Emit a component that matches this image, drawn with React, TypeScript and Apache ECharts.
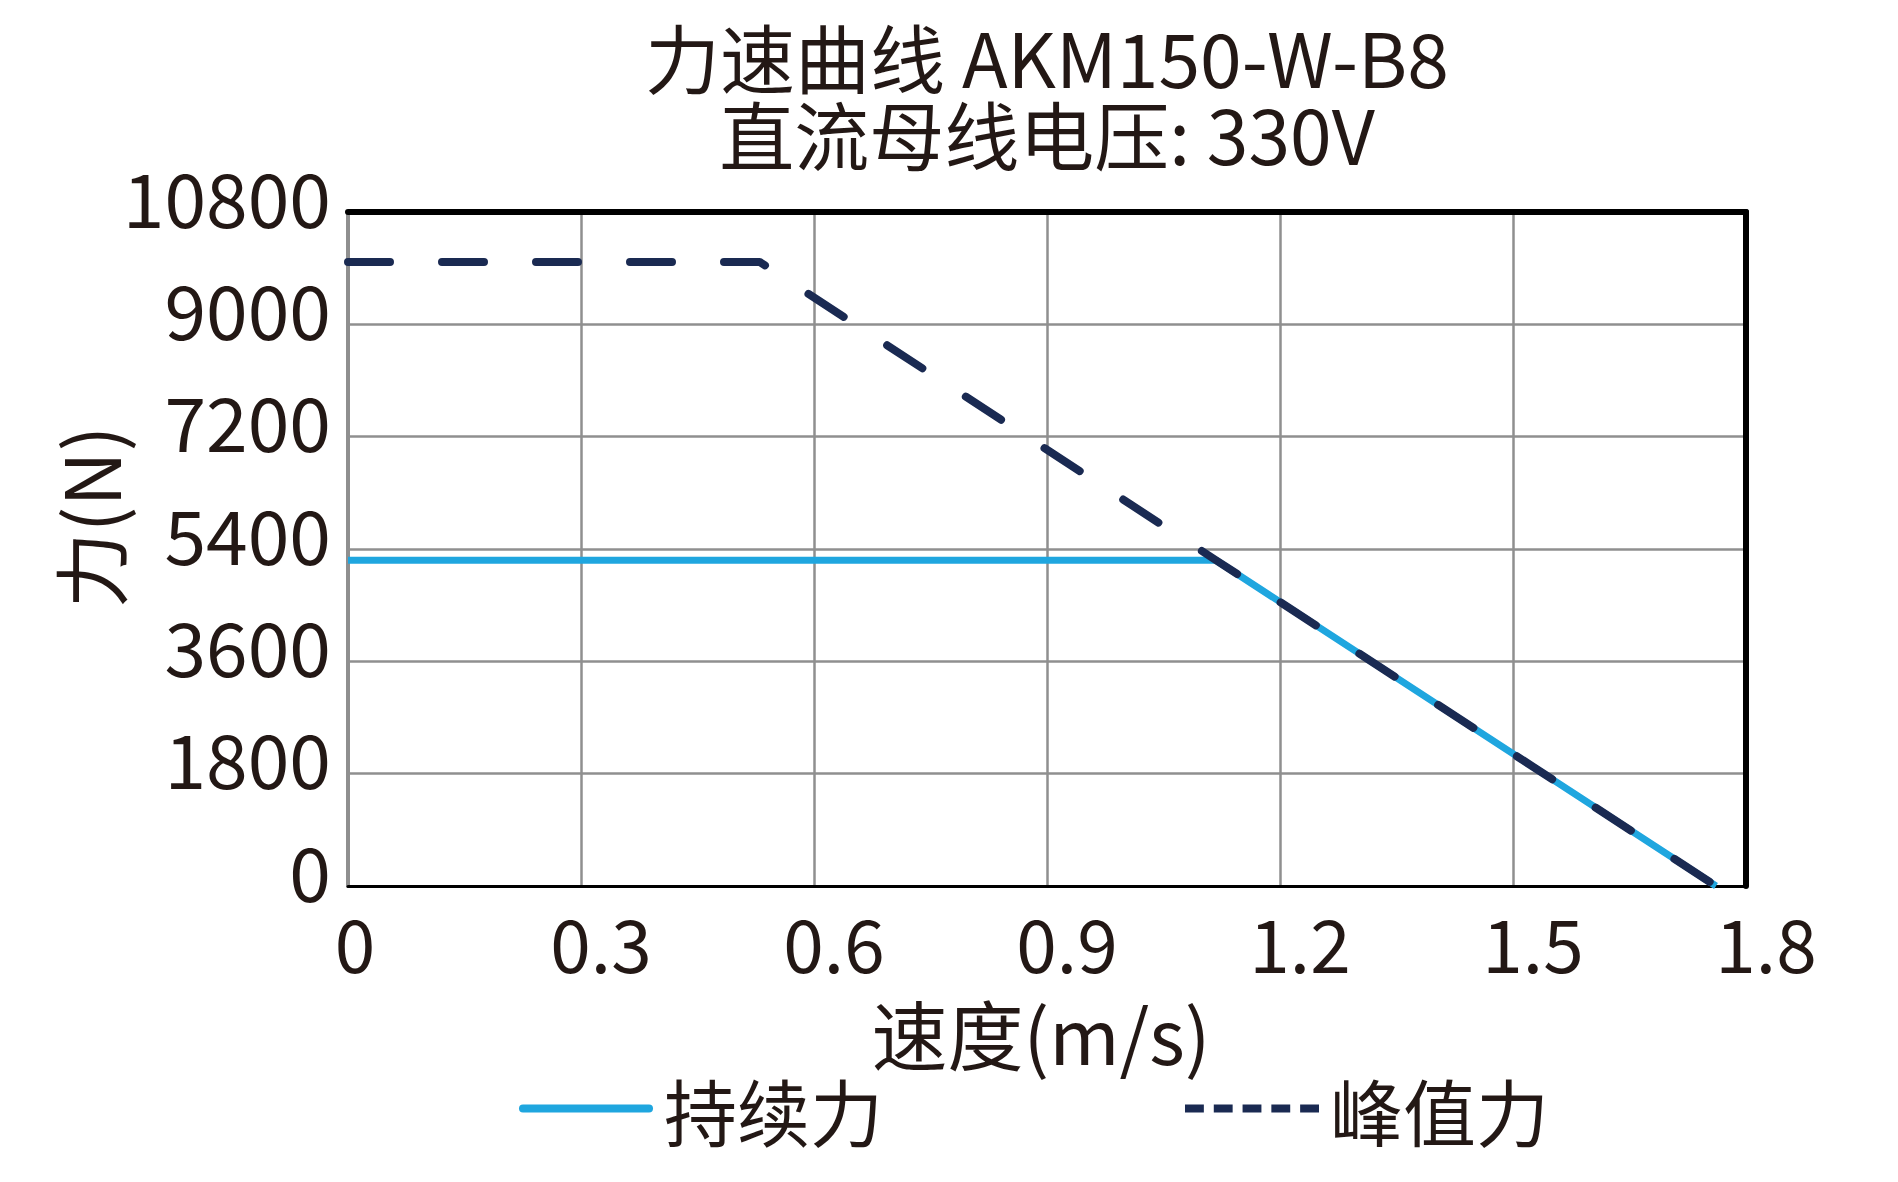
import React, { useEffect, useRef } from "react";
import * as echarts from "echarts";

const titleLines = ["力速曲线 AKM150-W-B8", "直流母线电压: 330V"];
const xName = "速度(m/s)";
const yName = "力(N)";
const seriesNames = ["持续力", "峰值力"];

// continuous force curve (speed m/s, force N)
const contSpeed = [0, 1.1176, 1.7614];
const contForce = [5220, 5220, 0];
// peak force curve
const peakSpeed = [0, 0.53, 1.1176, 1.7614];
const peakForce = [10000, 10000, 5220, 0];

const xMin = 0, xMax = 1.8, xStep = 0.3;
const yMin = 0, yMax = 10800, yStep = 1800;

const FONT = "Noto Sans CJK SC";
const TEXT = "#231815";
const BLUE = "#1fa6df";
const NAVY = "#1a2a52";
const GRID = "#8f8f8f";

const SOLID_ICON = "path://M4,0H130A4,4 0 0 1 130,8H4A4,4 0 0 1 4,0Z";
const DASH_ICON =
  "path://M0,0h19v8h-19z M29,0h19v8h-19z M58,0h19v8h-19z M87,0h19v8h-19z M116,0h19v8h-19z";

export default function App() {
  const ref = useRef<HTMLDivElement>(null);
  useEffect(() => {
    if (!ref.current) return;
    const chart = echarts.init(ref.current, null, { renderer: "svg" });
    const contData = contSpeed.map((x, i) => [x, contForce[i]]);
    const peakData = peakSpeed.map((x, i) => [x, peakForce[i]]);
    chart.setOption({
      animation: false,
      backgroundColor: "#ffffff",
      textStyle: { fontFamily: FONT, color: TEXT },
      title: {
        text: titleLines.join("\n"),
        left: 1042,
        top: 12,
        textAlign: "center",
        textStyle: { fontFamily: FONT, fontSize: 75, fontWeight: "normal", color: TEXT, lineHeight: 77 },
      },
      grid: { left: 348, right: 152, top: 212, bottom: 296, containLabel: false },
      legend: {
        left: 519,
        top: 1072,
        padding: 0,
        itemWidth: 134,
        itemHeight: 8,
        itemGap: 302,
        textStyle: { fontFamily: FONT, fontSize: 73, color: TEXT, padding: [0, 0, 0, 6] },
        data: [
          { name: seriesNames[0], icon: SOLID_ICON, itemStyle: { color: BLUE } },
          { name: seriesNames[1], icon: DASH_ICON, itemStyle: { color: NAVY } },
        ],
      },
      xAxis: [
        {
          type: "value",
          min: xMin,
          max: xMax,
          interval: xStep,
          name: xName,
          nameLocation: "middle",
          nameGap: 108,
          nameMoveOverlap: false,
          nameTextStyle: { fontFamily: FONT, fontSize: 76, color: TEXT, padding: [0, 12, 0, 0] },
          axisLine: { show: true, onZero: false, lineStyle: { color: "#000", width: 3 } },
          axisTick: { show: false },
          axisLabel: {
            fontFamily: FONT,
            fontSize: 73,
            color: TEXT,
            margin: 18,
            padding: [0, 0, 0, 40],
            formatter: (v: number) => (v === 0 ? "{z|0}" : v.toFixed(1)),
            rich: {
              z: { fontFamily: FONT, fontSize: 73, color: TEXT, padding: [0, 26, 0, 0] },
            },
          },
          splitLine: { show: true, lineStyle: { color: GRID, width: 2.5 } },
        },
        {
          type: "value",
          position: "top",
          min: xMin,
          max: xMax,
          interval: xStep,
          axisLine: { show: true, onZero: false, lineStyle: { color: "#000", width: 6 } },
          axisTick: { show: false },
          axisLabel: { show: false },
          splitLine: { show: false },
        },
      ],
      yAxis: [
        {
          type: "value",
          min: yMin,
          max: yMax,
          interval: yStep,
          name: yName,
          nameLocation: "middle",
          nameRotate: 90,
          nameGap: 222,
          nameMoveOverlap: false,
          nameTextStyle: { fontFamily: FONT, fontSize: 76, color: TEXT, padding: [0, 0, 0, 64] },
          axisLine: { show: true, onZero: false, lineStyle: { color: GRID, width: 4 } },
          axisTick: { show: false },
          axisLabel: {
            fontFamily: FONT,
            fontSize: 75,
            color: TEXT,
            margin: 17,
            verticalAlign: "bottom",
            lineHeight: 34,
            formatter: (v: number) => String(v),
          },
          splitLine: { show: true, lineStyle: { color: GRID, width: 2.5 } },
        },
        {
          type: "value",
          position: "right",
          min: yMin,
          max: yMax,
          interval: yStep,
          axisLine: { show: true, onZero: false, lineStyle: { color: "#000", width: 6 } },
          axisTick: { show: false },
          axisLabel: { show: false },
          splitLine: { show: false },
        },
      ],
      series: [
        {
          name: seriesNames[0],
          type: "line",
          data: contData,
          symbol: "none",
          lineStyle: { color: BLUE, width: 7 },
          itemStyle: { color: BLUE },
          z: 3,
        },
        {
          name: seriesNames[1],
          type: "line",
          data: peakData,
          symbol: "none",
          lineStyle: { color: NAVY, width: 8, type: [42, 52], cap: "round", join: "round" },
          itemStyle: { color: NAVY },
          z: 4,
        },
      ],
    });
    return () => chart.dispose();
  }, []);
  return (
    <div
      ref={ref}
      style={{ position: "fixed", left: 0, top: 0, width: 1898, height: 1182, background: "#fff" }}
    />
  );
}
